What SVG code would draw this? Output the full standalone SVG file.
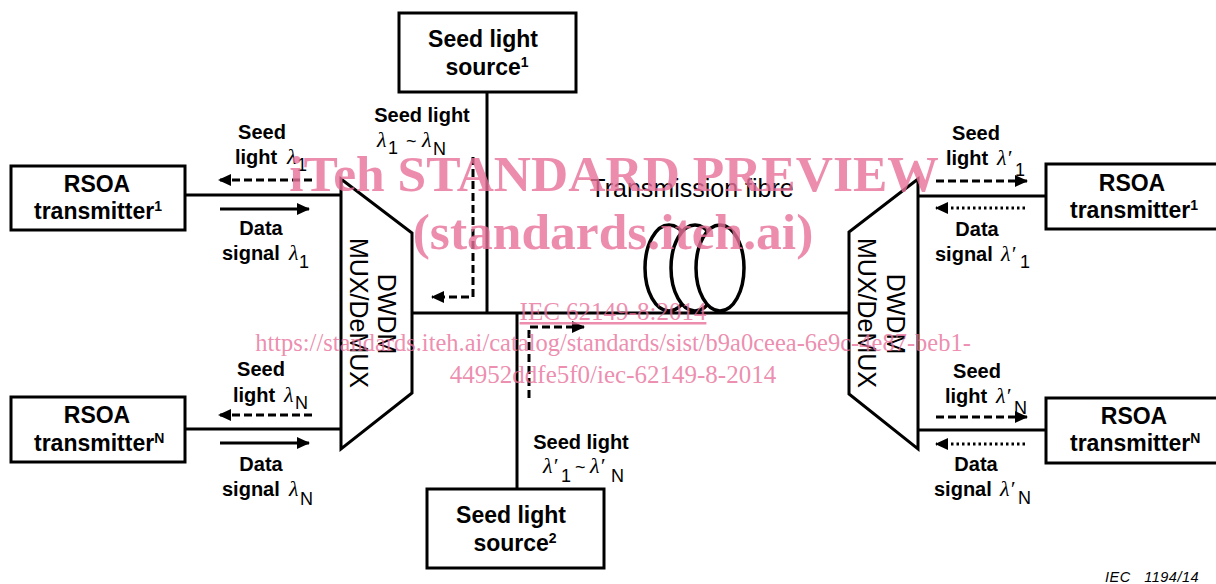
<svg xmlns="http://www.w3.org/2000/svg" width="1216" height="584" viewBox="0 0 1216 584">
<style>
text{font-family:"Liberation Sans",Arial,sans-serif;fill:#000}
.b{font-weight:bold;font-size:23px;text-anchor:middle}
.t{font-weight:bold;font-size:23px}
.l{font-weight:bold;font-size:20px;text-anchor:middle}
.st{font-weight:bold;font-size:20px}
.g{font-family:"Liberation Serif",serif;font-style:italic;font-size:22px}
.s{font-size:18px}
.mx{font-size:25px;text-anchor:middle}
.box{fill:#fff;stroke:#000;stroke-width:3}
.w{fill:none;stroke:#000;stroke-width:3}
.a{fill:none;stroke:#000;stroke-width:3}
.d{stroke-dasharray:8 4}
.o{stroke-dasharray:2.5 3}
.m{font-family:"Liberation Serif",serif;fill:#e8709a;fill-opacity:.8;text-anchor:middle}
</style>
<defs>
<marker id="h" markerUnits="userSpaceOnUse" markerWidth="13" markerHeight="12" refX="12" refY="6" orient="auto"><path d="M0 0L13 6L0 12Z" fill="#000"/></marker>
</defs>
<g id="connectors">
<path class="w" d="M185 195H341M185 429H341M412 313H849M487 92V313M517 313V489M918 196H1046M918 430H1046"/>
<path class="a d" d="M312 180H219" marker-end="url(#h)"/>
<path class="a" d="M220 209H309" marker-end="url(#h)"/>
<path class="a d" d="M312 415H219" marker-end="url(#h)"/>
<path class="a" d="M220 443H309" marker-end="url(#h)"/>
<path class="a d" d="M473 157V297H432" marker-end="url(#h)"/>
<path class="a d" d="M529 398V327H584" marker-end="url(#h)"/>
<path class="a d" d="M936 181H1027" marker-end="url(#h)"/>
<path class="a o" d="M1025 208H936" marker-end="url(#h)"/>
<path class="a d" d="M936 417H1027" marker-end="url(#h)"/>
<path class="a o" d="M1025 444H936" marker-end="url(#h)"/>
</g>
<g id="rsoa-tx-1-left"><rect class="box" x="11" y="166" width="174" height="64"/><text class="b" x="97" y="192">RSOA</text><text class="t" x="34" y="219">transmitter<tspan font-size="14" dy="-8">1</tspan></text></g>
<g id="rsoa-tx-n-left"><rect class="box" x="11" y="397" width="174" height="65"/><text class="b" x="97" y="423">RSOA</text><text class="t" x="34" y="451">transmitter<tspan font-size="14" dy="-8">N</tspan></text></g>
<g id="rsoa-tx-1-right"><rect class="box" x="1046" y="164" width="174" height="65"/><text class="b" x="1132" y="191">RSOA</text><text class="t" x="1070" y="218">transmitter<tspan font-size="14" dy="-8">1</tspan></text></g>
<g id="rsoa-tx-n-right"><rect class="box" x="1046" y="398" width="174" height="65"/><text class="b" x="1134" y="424">RSOA</text><text class="t" x="1070" y="451">transmitter<tspan font-size="14" dy="-8">N</tspan></text></g>
<g id="seed-source-1"><rect class="box" x="399" y="13" width="177" height="79"/><text class="b" x="483" y="47">Seed light</text><text class="b" x="487" y="75">source<tspan font-size="14" dy="-8">1</tspan></text></g>
<g id="seed-source-2"><rect class="box" x="427" y="489" width="177" height="79"/><text class="b" x="511" y="523">Seed light</text><text class="b" x="515" y="551">source<tspan font-size="14" dy="-8">2</tspan></text></g>
<g id="mux-left"><path class="box" d="M341 179L412 233V393L341 449Z"/><text class="mx" transform="translate(378 314) rotate(90)">DWDM</text><text class="mx" transform="translate(350 313) rotate(90)">MUX/DeMUX</text></g>
<g id="mux-right"><path class="box" d="M918 179L849 232V394L918 449Z"/><text class="mx" transform="translate(887 314) rotate(90)">DWDM</text><text class="mx" transform="translate(858 313) rotate(90)">MUX/DeMUX</text></g>
<g id="fibre" fill="#fff" stroke="#000" stroke-width="3.5"><ellipse cx="669" cy="268" rx="24" ry="43"/><ellipse cx="695" cy="268" rx="24" ry="43"/><ellipse cx="720" cy="268" rx="24" ry="43"/><text x="692" y="197" text-anchor="middle" stroke="none" style="font-size:25px">Transmission fibre</text></g>
<g id="labels">
<text class="l" x="262" y="139">Seed</text>
<text class="st" x="235" y="164">light</text><text class="g" x="287" y="164">λ</text><text class="s" x="297" y="171">1</text>
<text class="l" x="261" y="235">Data</text>
<text class="st" x="222" y="260">signal</text><text class="g" x="289" y="260">λ</text><text class="s" x="299" y="268">1</text>
<text class="l" x="422" y="122">Seed light</text>
<text class="g" x="377" y="147">λ</text><text class="s" x="388" y="154">1</text><text class="s" x="406" y="147">~</text><text class="g" x="422" y="147">λ</text><text class="s" x="433" y="155">N</text>
<text class="l" x="261" y="376">Seed</text>
<text class="st" x="233" y="402">light</text><text class="g" x="284" y="402">λ</text><text class="s" x="295" y="409">N</text>
<text class="l" x="261" y="471">Data</text>
<text class="st" x="222" y="496">signal</text><text class="g" x="289" y="496">λ</text><text class="s" x="300" y="505">N</text>
<text class="l" x="581" y="449">Seed light</text>
<text class="g" x="543" y="473">λ′</text><text class="s" x="561" y="482">1</text><text class="s" x="575" y="473">~</text><text class="g" x="590" y="473">λ′</text><text class="s" x="611" y="482">N</text>
<text class="l" x="976" y="140">Seed</text>
<text class="st" x="946" y="165">light</text><text class="g" x="997" y="165">λ′</text><text class="s" x="1015" y="176">1</text>
<text class="l" x="977" y="236">Data</text>
<text class="st" x="935" y="261">signal</text><text class="g" x="1001" y="261">λ′</text><text class="s" x="1020" y="268">1</text>
<text class="l" x="977" y="378">Seed</text>
<text class="st" x="945" y="403">light</text><text class="g" x="996" y="403">λ′</text><text class="s" x="1014" y="414">N</text>
<text class="l" x="976" y="471">Data</text>
<text class="st" x="934" y="496">signal</text><text class="g" x="1000" y="496">λ′</text><text class="s" x="1018" y="504">N</text>
<text x="1105" y="582" font-size="14.5" font-style="italic" xml:space="preserve" letter-spacing=".5">IEC   1194/14</text>
</g>
<g id="watermark">
<text class="m" x="614" y="191" font-size="51.5" font-weight="bold">iTeh STANDARD PREVIEW</text>
<text class="m" x="613" y="249" font-size="51.5" font-weight="bold">(standards.iteh.ai)</text>
<text class="m" x="613" y="320" font-size="25" text-decoration="underline">IEC 62149-8:2014</text>
<text class="m" x="613" y="351" font-size="24.5">https://standards.iteh.ai/catalog/standards/sist/b9a0ceea-6e9c-4e87-beb1-</text>
<text class="m" x="613" y="383" font-size="25">44952ddfe5f0/iec-62149-8-2014</text>
</g>
</svg>
